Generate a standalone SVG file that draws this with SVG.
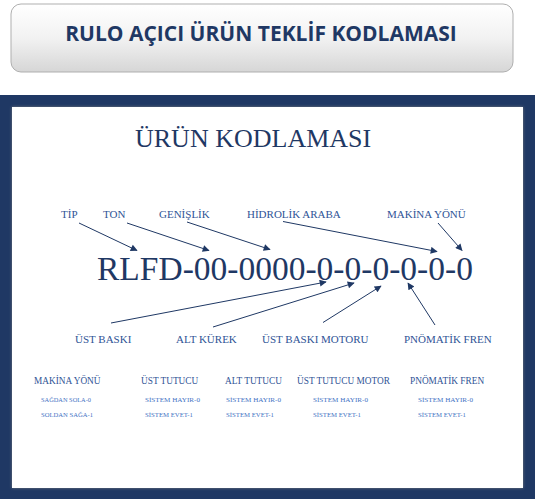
<svg xmlns="http://www.w3.org/2000/svg" width="544" height="499" viewBox="0 0 544 499">
<defs>
<linearGradient id="hdrGrad" x1="0" y1="0" x2="0" y2="1">
<stop offset="0" stop-color="#FFFFFF"/>
<stop offset="0.5" stop-color="#F2F2F2"/>
<stop offset="1" stop-color="#D6D6D6"/>
</linearGradient>
<filter id="shadow" x="-5%" y="-5%" width="110%" height="110%">
<feDropShadow dx="0" dy="0" stdDeviation="1.5" flood-color="#808080" flood-opacity="0.9"/>
</filter>
<marker id="arrow" viewBox="0 0 10 10" refX="9" refY="5" markerWidth="9" markerHeight="7" markerUnits="userSpaceOnUse" orient="auto">
<path d="M0,0 L10,5 L0,10 z" fill="#1F3864"/>
</marker>
</defs>
<style>
.hdr{font-family:"Open Sans","Liberation Sans",sans-serif;font-weight:bold;font-size:21px;fill:#1F3864}
.serif{font-family:"Liberation Serif","Times New Roman",serif}
.big{font-size:26px;fill:#1F3864}
.code{font-size:33.5px;fill:#1F3864}
.lbl{font-size:11px;fill:#2F5496}
.th{font-size:9.3px;fill:#2F5496}
.td{font-size:6.6px;fill:#4472C4}
.conn{stroke:#1F3864;stroke-width:1;fill:none;marker-end:url(#arrow)}
</style>
<rect width="544" height="499" fill="#FFFFFF"/>
<g id="header">
<rect x="11" y="4" width="502" height="68" rx="10" ry="10" fill="url(#hdrGrad)" stroke="#AFAFAF" stroke-width="1"/>
<text class="hdr" x="261" y="40.5" text-anchor="middle">RULO AÇICI ÜRÜN TEKLİF KODLAMASI</text>
</g>
<g id="frame">
<rect x="0" y="95" width="535" height="404" fill="#1F3864"/>
<rect x="12" y="107" width="511" height="381" fill="#FFFFFF" filter="url(#shadow)"/>
</g>
<g id="title">
<text class="serif big" x="135" y="147">ÜRÜN KODLAMASI</text>
</g>
<g id="code">
<text class="serif code" x="97" y="280">RLFD-00-0000-0-0-0-0-0-0</text>
</g>
<g id="lbl-tip"><text class="serif lbl" x="61" y="218">TİP</text></g>
<g id="lbl-ton"><text class="serif lbl" x="103" y="218">TON</text></g>
<g id="lbl-genislik"><text class="serif lbl" x="159" y="218">GENİŞLİK</text></g>
<g id="lbl-hidrolik"><text class="serif lbl" x="247" y="218">HİDROLİK ARABA</text></g>
<g id="lbl-makina"><text class="serif lbl" x="387" y="218">MAKİNA YÖNÜ</text></g>
<g id="lbl-ustbaski"><text class="serif lbl" x="75" y="343">ÜST BASKI</text></g>
<g id="lbl-altkurek"><text class="serif lbl" x="176" y="343">ALT KÜREK</text></g>
<g id="lbl-ustbaskimotor"><text class="serif lbl" x="262" y="343">ÜST BASKI MOTORU</text></g>
<g id="lbl-pnomatik"><text class="serif lbl" x="404" y="343">PNÖMATİK FREN</text></g>
<g id="connectors">
<line class="conn" x1="79" y1="223" x2="137" y2="250.5"/>
<line class="conn" x1="127" y1="223" x2="209" y2="250.5"/>
<line class="conn" x1="187" y1="222" x2="270" y2="249.5"/>
<line class="conn" x1="283" y1="221.5" x2="437" y2="251.5"/>
<line class="conn" x1="438" y1="223" x2="462" y2="250.5"/>
<line class="conn" x1="111" y1="323" x2="326" y2="282"/>
<line class="conn" x1="213" y1="327" x2="354" y2="283"/>
<line class="conn" x1="323" y1="322.5" x2="381" y2="286"/>
<line class="conn" x1="435" y1="325" x2="408" y2="283"/>
</g>
<g id="legend">
<text class="serif th" x="34" y="383.5">MAKİNA YÖNÜ</text>
<text class="serif th" x="141" y="383.5">ÜST TUTUCU</text>
<text class="serif th" x="225" y="383.5">ALT TUTUCU</text>
<text class="serif th" x="297" y="383.5">ÜST TUTUCU MOTOR</text>
<text class="serif th" x="410" y="383.5">PNÖMATİK FREN</text>
<text class="serif td" x="41" y="402" textLength="50" lengthAdjust="spacingAndGlyphs">SAĞDAN SOLA-0</text>
<text class="serif td" x="41" y="416.5" textLength="52" lengthAdjust="spacingAndGlyphs">SOLDAN SAĞA-1</text>
<text class="serif td" x="145" y="402" textLength="55" lengthAdjust="spacingAndGlyphs">SİSTEM HAYIR-0</text>
<text class="serif td" x="145" y="416.5" textLength="48" lengthAdjust="spacingAndGlyphs">SİSTEM EVET-1</text>
<text class="serif td" x="226" y="402" textLength="55" lengthAdjust="spacingAndGlyphs">SİSTEM HAYIR-0</text>
<text class="serif td" x="226" y="416.5" textLength="48" lengthAdjust="spacingAndGlyphs">SİSTEM EVET-1</text>
<text class="serif td" x="313" y="402" textLength="55" lengthAdjust="spacingAndGlyphs">SİSTEM HAYIR-0</text>
<text class="serif td" x="313" y="416.5" textLength="48" lengthAdjust="spacingAndGlyphs">SİSTEM EVET-1</text>
<text class="serif td" x="418" y="402" textLength="55" lengthAdjust="spacingAndGlyphs">SİSTEM HAYIR-0</text>
<text class="serif td" x="418" y="416.5" textLength="48" lengthAdjust="spacingAndGlyphs">SİSTEM EVET-1</text>
</g>
</svg>
